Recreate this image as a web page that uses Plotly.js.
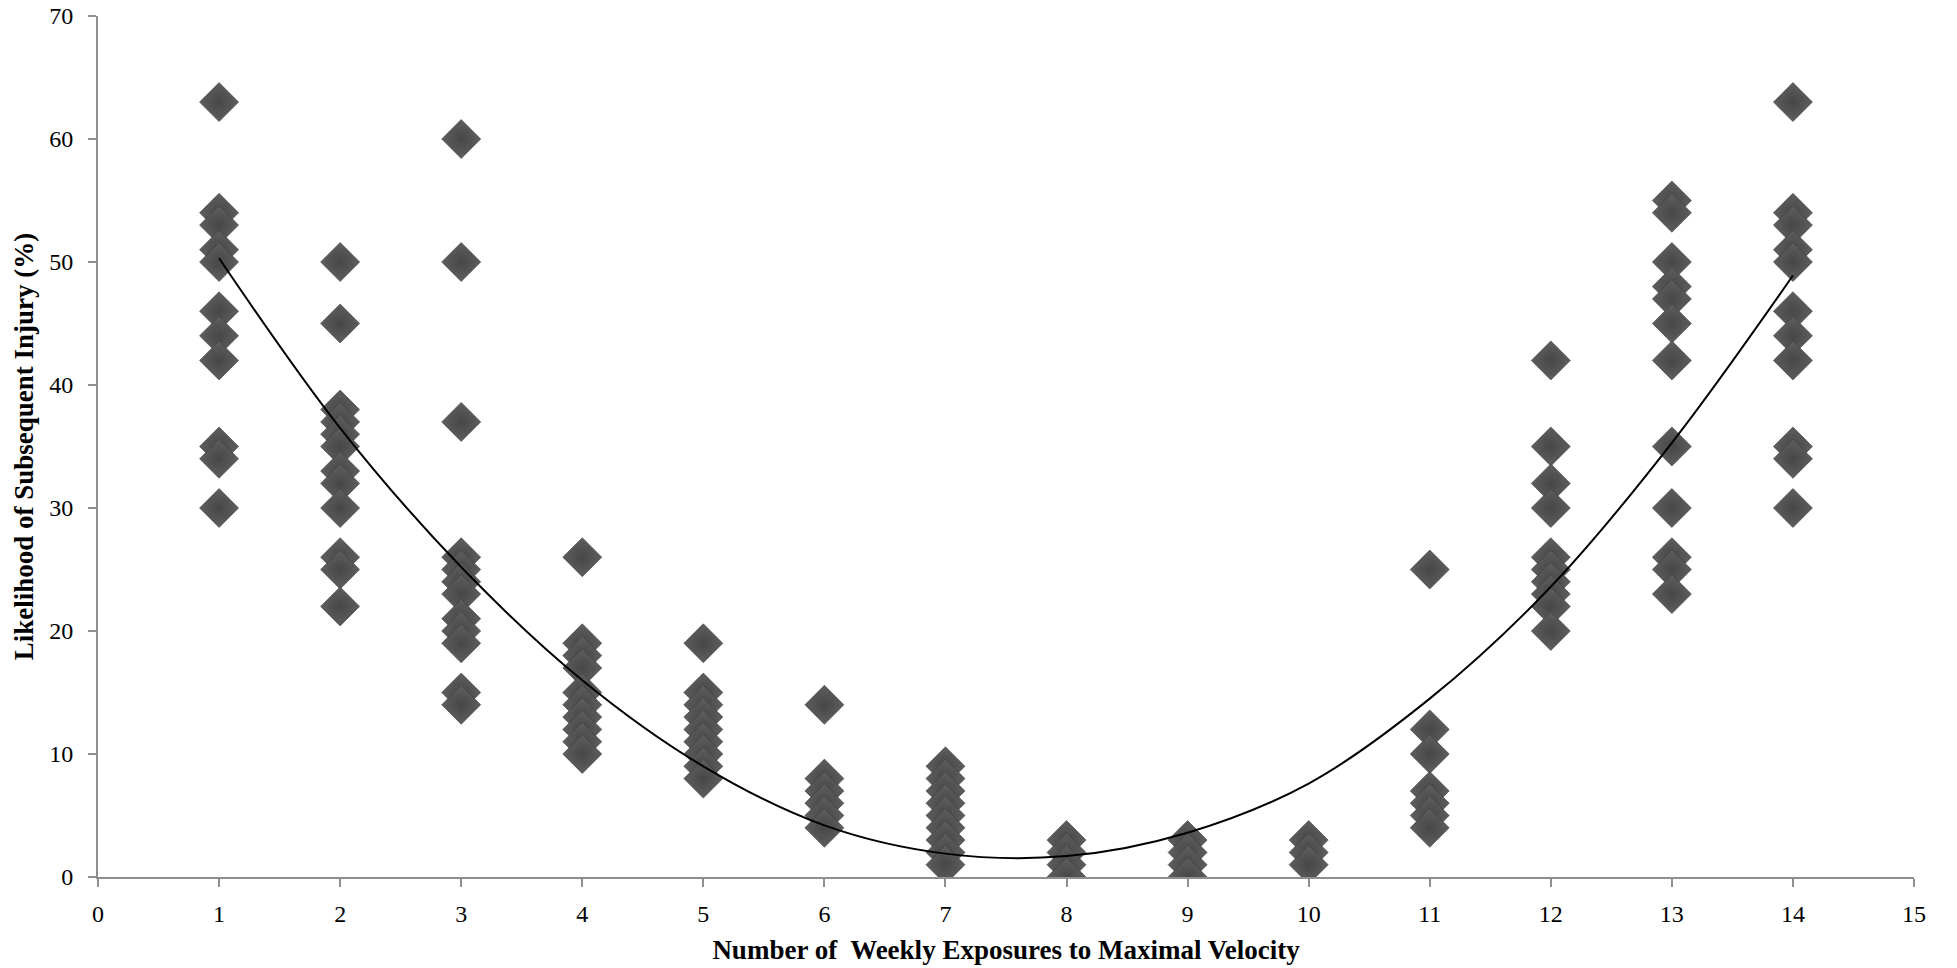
<!DOCTYPE html>
<html>
<head>
<meta charset="utf-8">
<script src="https://cdn.plot.ly/plotly-3.0.1.min.js"></script>
<style>
  html, body { margin: 0; padding: 0; background: #ffffff; }
  #chart { width: 1957px; height: 968px; }
</style>
</head>
<body>
<div id="chart"></div>
<script>
// Likelihood of subsequent injury (%) by number of weekly exposures
const exposures = [1, 2, 3, 4, 5, 6, 7, 8, 9, 10, 11, 12, 13, 14];
const w1  = [63, 54, 53, 51, 50, 46, 44, 42, 35, 34, 30];
const w2  = [50, 45, 38, 37, 36, 35, 33, 32, 30, 26, 25, 22];
const w3  = [60, 50, 37, 26, 25, 24, 23, 21, 20, 19, 15, 14];
const w4  = [26, 19, 18, 17, 15, 14, 13, 12, 11, 10];
const w5  = [19, 15, 14, 13, 12, 11, 10, 9, 8];
const w6  = [14, 8, 7, 6, 5, 4];
const w7  = [9, 8, 7, 6, 5, 4, 3, 2, 1];
const w8  = [3, 2, 1, 0];
const w9  = [3, 2, 1, 0];
const w10 = [3, 2, 1];
const w11 = [25, 12, 10, 7, 6, 5, 4];
const w12 = [42, 35, 32, 30, 26, 25, 24, 23, 22, 20];
const w13 = [55, 54, 50, 48, 47, 45, 42, 35, 30, 26, 25, 23];
const w14 = [63, 54, 53, 51, 50, 46, 44, 42, 35, 34, 30];

// Trend line (polynomial trendline)
const trendX = [1, 2, 3, 4, 5, 6, 7, 8, 9, 10, 11, 12, 13, 14];
const trendY = [50.3, 36.5, 25.2, 16.0, 9.0, 4.2, 1.9, 1.7, 3.6, 7.6, 14.5, 23.6, 35.3, 48.9];

const xTickVals = [0, 1, 2, 3, 4, 5, 6, 7, 8, 9, 10, 11, 12, 13, 14, 15];
const yTickVals = [0, 10, 20, 30, 40, 50, 60, 70];
const xTitle = 'Number of  Weekly Exposures to Maximal Velocity';
const yTitle = 'Likelihood of Subsequent Injury (%)';

const columns = [w1, w2, w3, w4, w5, w6, w7, w8, w9, w10, w11, w12, w13, w14];
const px = [], py = [];
columns.forEach((col, i) => {
  col.forEach(v => { px.push(exposures[i]); py.push(v); });
});

const FONT = '"Liberation Serif", "Times New Roman", Times, serif';
const AXIS_COLOR = '#8e8e8e';

const traces = [
  {
    type: 'scatter',
    mode: 'markers',
    x: px,
    y: py,
    marker: {
      symbol: 'diamond',
      size: 30,
      color: '#5e5e5e',
      gradient: { type: 'radial', color: '#474747' },
      line: { width: 0.6, color: '#3c3c3c' }
    },
    hoverinfo: 'x+y',
    showlegend: false
  },
  {
    type: 'scatter',
    mode: 'lines',
    x: trendX,
    y: trendY,
    line: { color: '#000000', width: 2, shape: 'spline', smoothing: 1 },
    hoverinfo: 'skip',
    showlegend: false
  }
];

const layout = {
  width: 1957,
  height: 968,
  margin: { l: 98, r: 43, t: 16, b: 91, pad: 0 },
  paper_bgcolor: '#ffffff',
  plot_bgcolor: '#ffffff',
  font: { family: FONT, color: '#000000', size: 24 },
  showlegend: false,
  xaxis: {
    range: [0, 15],
    tickmode: 'array',
    tickvals: xTickVals,
    ticktext: xTickVals.map(String),
    showgrid: false,
    zeroline: false,
    showline: true,
    linecolor: AXIS_COLOR,
    linewidth: 2,
    ticks: 'outside',
    ticklen: 8,
    tickwidth: 2,
    tickcolor: AXIS_COLOR,
    ticklabelstandoff: 6,
    tickfont: { family: FONT, size: 24, color: '#000000' },
    title: { text: '<b>' + xTitle + '</b>', font: { family: FONT, size: 27, color: '#000000' }, standoff: 14 },
    fixedrange: true
  },
  yaxis: {
    range: [0, 70],
    tickmode: 'array',
    tickvals: yTickVals,
    ticktext: yTickVals.map(String),
    showgrid: false,
    zeroline: false,
    showline: true,
    linecolor: AXIS_COLOR,
    linewidth: 2,
    ticks: 'outside',
    ticklen: 8,
    tickwidth: 2,
    tickcolor: AXIS_COLOR,
    ticklabelstandoff: 10,
    tickfont: { family: FONT, size: 24, color: '#000000' },
    title: { text: '<b>' + yTitle + '</b>', font: { family: FONT, size: 27, color: '#000000' }, standoff: 8 },
    fixedrange: true
  }
};

Plotly.newPlot('chart', traces, layout, { displayModeBar: false, responsive: false });
</script>
</body>
</html>
